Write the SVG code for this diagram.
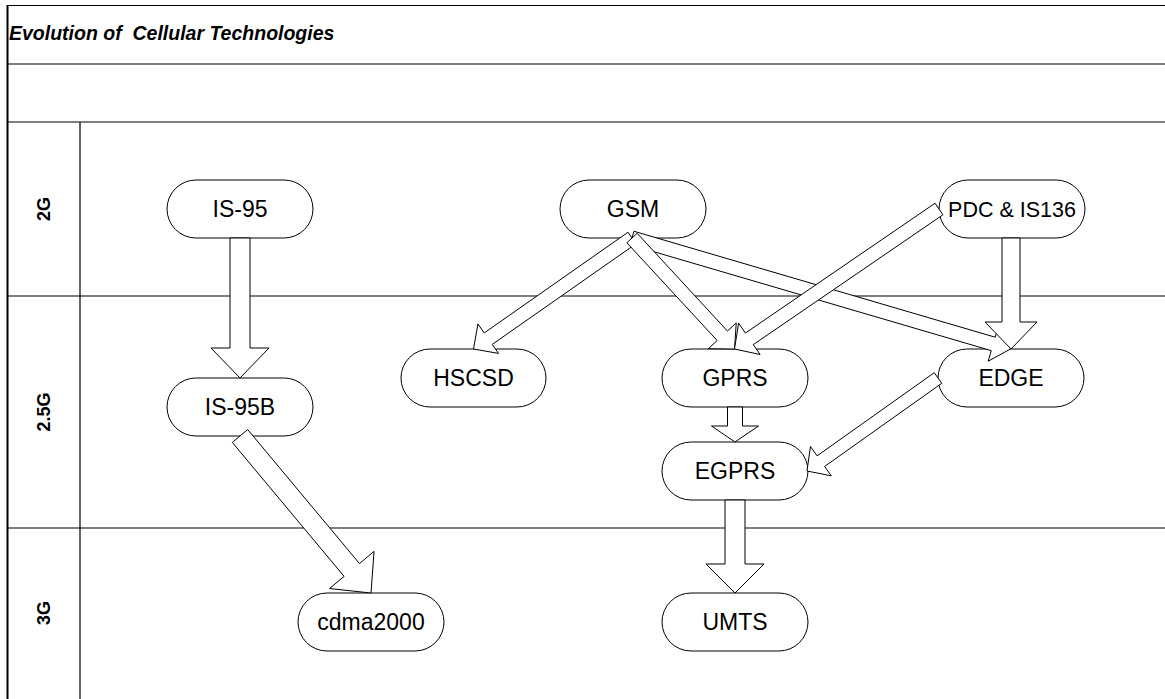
<svg xmlns="http://www.w3.org/2000/svg" width="1165" height="699" viewBox="0 0 1165 699">
<style>
.frame{stroke:#000;stroke-width:1.2;fill:none}
.node rect{fill:#fff;stroke:#000;stroke-width:1}
.node text{font-family:"Liberation Sans",Arial,sans-serif;font-size:23px;text-anchor:middle;fill:#000}
.arrow{fill:#fff;stroke:#000;stroke-width:1;stroke-linejoin:miter}
.lane{font-family:"Liberation Sans",Arial,sans-serif;font-size:18px;font-weight:bold;text-anchor:middle;fill:#000}
.title{font-family:"Liberation Sans",Arial,sans-serif;font-size:19.5px;font-weight:bold;font-style:italic;fill:#000}
</style>
<rect width="1165" height="699" fill="#fff"/>
<g id="frame">
<line class="frame" x1="7" y1="5.5" x2="1165" y2="5.5"/>
<line class="frame" x1="7" y1="64" x2="1165" y2="64"/>
<line class="frame" x1="7" y1="122" x2="1165" y2="122"/>
<line class="frame" x1="7" y1="296" x2="1165" y2="296"/>
<line class="frame" x1="7" y1="528" x2="1165" y2="528"/>
<line class="frame" x1="7.5" y1="5" x2="7.5" y2="699" style="stroke-width:2"/>
<line class="frame" x1="80" y1="122" x2="80" y2="699"/>
<text class="title" x="9" y="40" xml:space="preserve">Evolution of  Cellular Technologies</text>
<text class="lane" transform="translate(50,209) rotate(-90)">2G</text>
<text class="lane" transform="translate(50,412) rotate(-90)">2.5G</text>
<text class="lane" transform="translate(50,613) rotate(-90)">3G</text>
</g>
<g id="n-is95" class="node"><rect x="167" y="180" width="146" height="58" rx="29"/><text x="240" y="217">IS-95</text></g>
<g id="n-gsm" class="node"><rect x="560" y="180" width="146" height="58" rx="29"/><text x="633" y="217">GSM</text></g>
<g id="n-pdc" class="node"><rect x="939" y="180" width="146" height="58" rx="29"/><text x="1012" y="216.5" style="font-size:21.5px">PDC &amp; IS136</text></g>
<g id="n-hscsd" class="node"><rect x="401" y="349" width="145" height="58" rx="29"/><text x="473.5" y="386">HSCSD</text></g>
<g id="n-gprs" class="node"><rect x="662" y="349" width="146" height="58" rx="29"/><text x="735" y="386">GPRS</text></g>
<g id="n-edge" class="node"><rect x="938" y="349" width="146" height="58" rx="29"/><text x="1011" y="386">EDGE</text></g>
<g id="n-is95b" class="node"><rect x="167" y="378" width="146" height="58" rx="29"/><text x="240" y="415">IS-95B</text></g>
<g id="n-egprs" class="node"><rect x="662" y="442" width="146" height="58" rx="29"/><text x="735" y="479">EGPRS</text></g>
<g id="n-cdma2000" class="node"><rect x="298" y="593" width="146" height="58" rx="29"/><text x="371" y="630">cdma2000</text></g>
<g id="n-umts" class="node"><rect x="662" y="593" width="146" height="58" rx="29"/><text x="735" y="630">UMTS</text></g>
<g id="connectors">
<polygon class="arrow" points="250,238 250,348 269,348 240,378 211,348 230,348 230,238"/>
<polygon class="arrow" points="232.32,442.41 344.10,576.38 329.51,588.55 371,593 374.05,551.39 359.46,563.56 247.68,429.59"/>
<polygon class="arrow" points="630.03,244.72 991.26,350.65 988.16,361.2 1010.5,349 998.3,326.66 995.2,337.21 633.97,231.28"/>
<polygon class="arrow" points="627.99,232.27 484.22,332.94 477.92,323.93 473.5,349 498.56,353.41 492.26,344.40 636.02,243.73"/>
<polygon class="arrow" points="626.86,242.75 717.15,340.53 708.33,348.67 734.5,349 736.25,322.89 727.43,331.03 637.14,233.25"/>
<polygon class="arrow" points="935.05,203.22 745.40,333.05 738.62,323.15 734.5,349 760.08,354.51 753.30,344.61 942.95,214.78"/>
<polygon class="arrow" points="1020,238 1020,322 1037,322 1011,349 985,322 1002,322 1002,238"/>
<polygon class="arrow" points="742.5,407 742.5,426 758.5,426 735,442 711.5,426 727.5,426 727.5,407"/>
<polygon class="arrow" points="934.24,372.70 817.10,455.86 810.44,446.48 807,471 831.28,475.84 824.62,466.46 941.76,383.30"/>
<polygon class="arrow" points="745,500 745,564 764,564 735,593 706,564 725,564 725,500"/>
</g>
</svg>
